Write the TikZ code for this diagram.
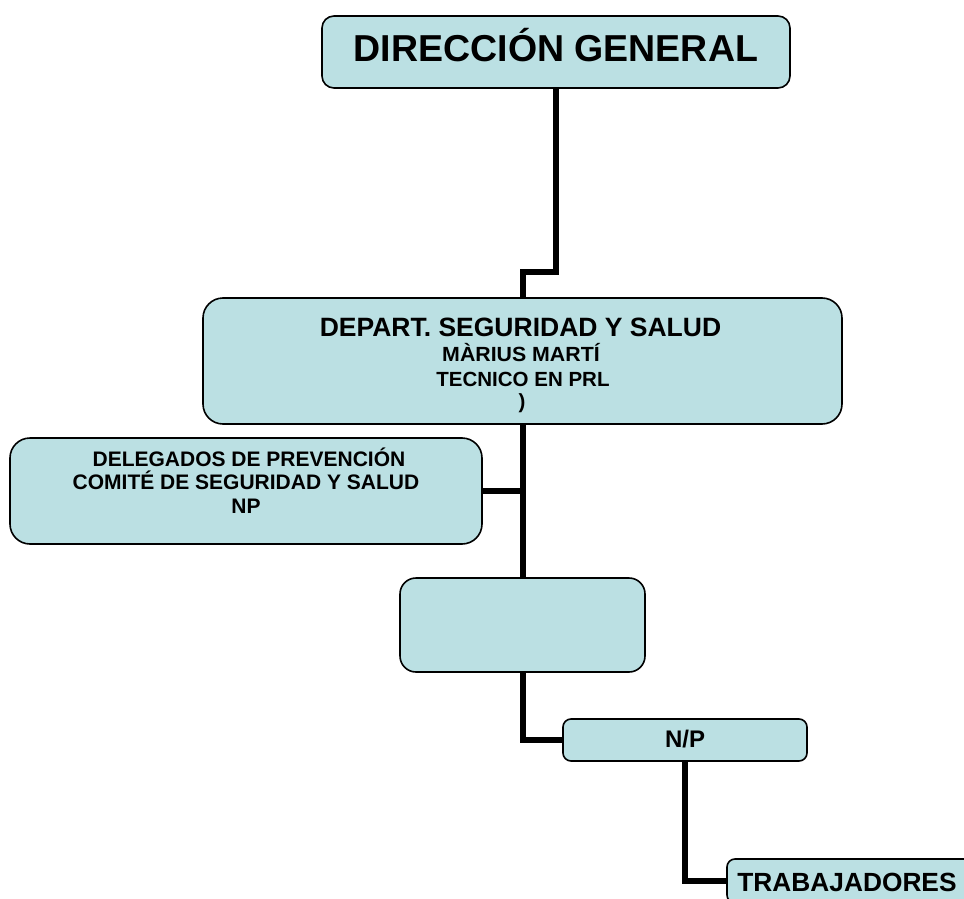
\documentclass[tikz,border=0pt]{standalone}
\usepackage{fontspec}
\usepackage{graphicx}
\setmainfont{Liberation Sans}
\definecolor{boxfill}{HTML}{BBE0E3}
\newcommand{\sx}[2]{\scalebox{#1}[1]{#2}}
\tikzset{
  orgbox/.style={draw=black, line width=1.6pt, fill=boxfill, inner sep=0pt},
  conn/.style={line width=6pt, draw=black, line join=miter, line cap=butt},
  txt/.style={anchor=base, inner sep=0pt, font=\bfseries}
}
\begin{document}
\begin{tikzpicture}[x=1pt, y=-1pt]
\useasboundingbox (0,0) rectangle (964,899);
\clip (0,0) rectangle (964,899);
% boxes
\node[orgbox, rounded corners=12pt, minimum width=468pt, minimum height=72pt] (dg) at (556,52) {};
\node[orgbox, rounded corners=20pt, minimum width=639pt, minimum height=126pt] (dept) at (522.5,361) {};
\node[orgbox, rounded corners=20pt, minimum width=472pt, minimum height=106pt] (dele) at (246,491) {};
\node[orgbox, rounded corners=16pt, minimum width=245pt, minimum height=94pt] (empty) at (522.5,625) {};
\node[orgbox, rounded corners=8pt, minimum width=244pt, minimum height=42pt] (np) at (685,740) {};
\node[orgbox, rounded corners=8pt, minimum width=263pt, minimum height=44pt] (trab) at (858.5,881) {};
% texts
\node[txt, font=\bfseries\fontsize{37.5}{37.5}\selectfont] (dgt) at (556,62) {DIRECCIÓN GENERAL};
\node[txt, font=\bfseries\fontsize{26.5}{26.5}\selectfont] (deptt1) at (520.5,336) {DEPART. SEGURIDAD Y SALUD};
\node[txt, font=\bfseries\fontsize{20.5}{20.5}\selectfont] (deptt2) at (521,361) {\sx{1.04}{MÀRIUS MARTÍ}};
\node[txt, font=\bfseries\fontsize{20.5}{20.5}\selectfont] (deptt3) at (523,386) {TECNICO EN PRL};
\node[txt, font=\bfseries\fontsize{20.5}{20.5}\selectfont] (deptt4) at (522,408) {)};
\node[txt, font=\bfseries\fontsize{21}{21}\selectfont] (delet1) at (249,466) {DELEGADOS DE PREVENCIÓN};
\node[txt, font=\bfseries\fontsize{21}{21}\selectfont] (delet2) at (246,489) {COMITÉ DE SEGURIDAD Y SALUD};
\node[txt, font=\bfseries\fontsize{21}{21}\selectfont] (delet3) at (246,513) {NP};
\node[txt, font=\bfseries\fontsize{24}{24}\selectfont] (npt) at (685,747) {N/P};
\node[txt, font=\bfseries\fontsize{26.3}{26.3}\selectfont] (trabt) at (847,891) {TRABAJADORES};
% connectors
\coordinate (j1) at (556,272);
\draw[conn] (dg.south) -- (j1) -| (dept.north);
\draw[conn] (dept.south) -- (empty.north);
\draw[conn] (dele.east) -- (dele.east -| dept.south);
\draw[conn] (empty.south) |- (np.west);
\draw[conn] (np.south) |- (trab.west);
\end{tikzpicture}
\end{document}
